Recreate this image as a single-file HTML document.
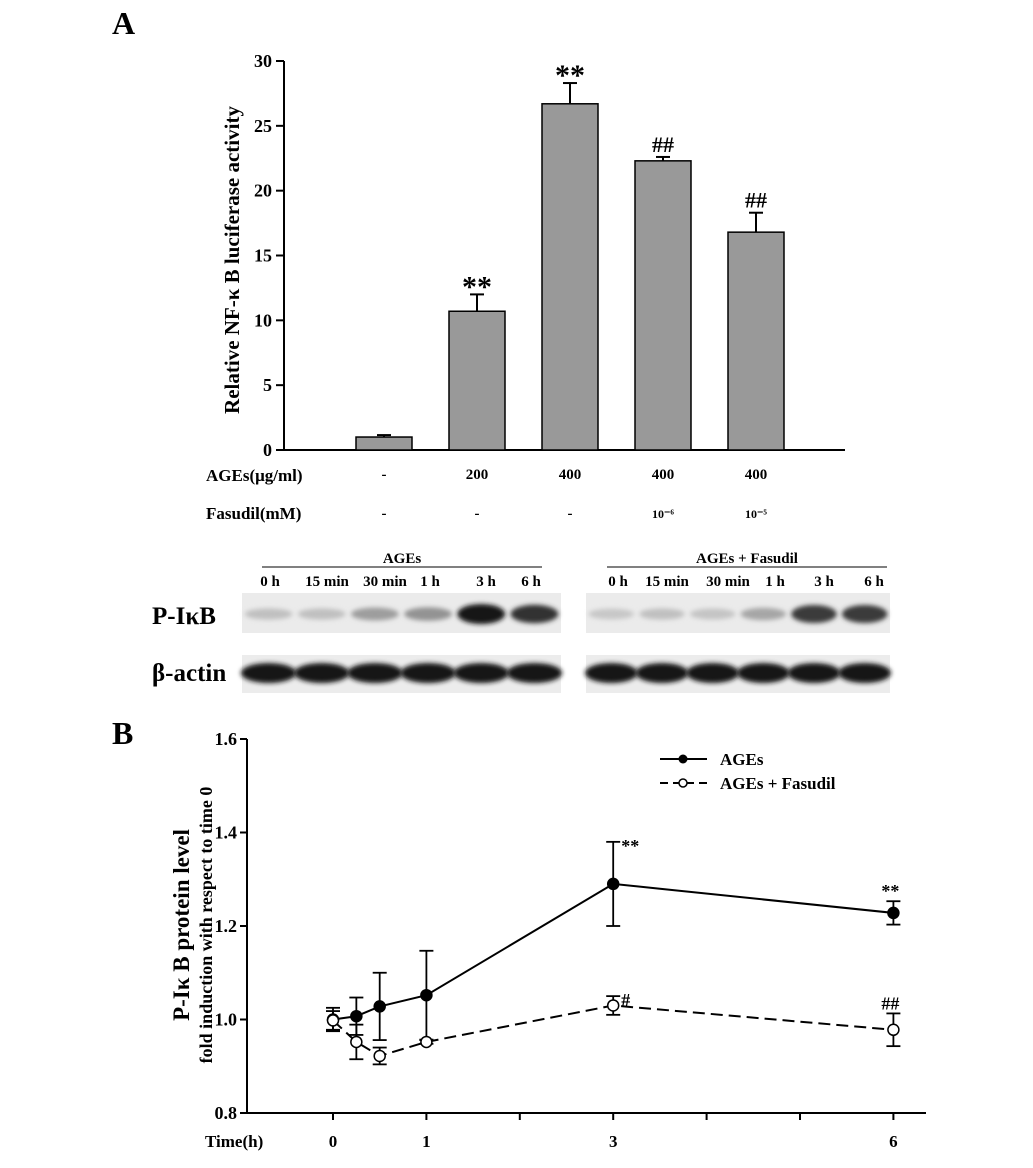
<!DOCTYPE html>
<html><head><meta charset="utf-8"><style>
body{margin:0;background:#fff;}
svg{display:block;font-family:"Liberation Serif",serif;font-weight:bold;}
</style></head><body>
<svg width="1033" height="1168" viewBox="0 0 1033 1168">
<defs>
<filter id="blur" x="-20%" y="-50%" width="140%" height="200%"><feGaussianBlur stdDeviation="2.5"/></filter>
</defs>
<text x="112" y="34" font-size="32">A</text>
<text x="112" y="744" font-size="32">B</text>
<g id="barChart"></g>
<g id="blots"></g>
<g id="lineChart"></g>
</svg>
<script>
const NS="http://www.w3.org/2000/svg";
function mk(parent,tag,attrs,text){const e=document.createElementNS(NS,tag);for(const k in attrs)e.setAttribute(k,attrs[k]);if(text!==undefined)e.textContent=text;parent.appendChild(e);return e;}

// ---- Bar chart data ----
const barCategories=["ctrl","AGEs200","AGEs400","AGEs400+F6","AGEs400+F5"];
const barValues=[1.0,10.7,26.7,22.3,16.8];
const barErrors=[0.15,1.3,1.6,0.3,1.5];
const barMarks=["","**","**","##","##"];
const agesLabels=["-","200","400","400","400"];
const fasudilLabels=["-","-","-","10⁻⁶","10⁻⁵"];
const barTicks=[0,5,10,15,20,25,30];

const bc=document.getElementById('barChart');
const bx0=284,by0=450,byTop=61,bMax=30;
const by=v=>by0-(v/bMax)*(by0-byTop);
const bcx=i=>384+i*93;
const bw=56;
let e;
e=mk(bc,'line',{x1:bx0,y1:byTop,x2:bx0,y2:by0,stroke:'#000','stroke-width':2});

e=mk(bc,'line',{x1:bx0,y1:by0,x2:845,y2:by0,stroke:'#000','stroke-width':2});

barTicks.forEach(t=>{
  e=mk(bc,'line',{x1:bx0-8,y1:by(t),x2:bx0,y2:by(t),stroke:'#000','stroke-width':2});
  
  e=mk(bc,'text',{x:bx0-12,y:by(t)+6,'font-size':18,'text-anchor':'end'},String(t));
  
});
e=mk(bc,'text',{transform:'translate(239,260) rotate(-90)','font-size':21,'text-anchor':'middle'},'Relative NF-κ B luciferase activity');

barValues.forEach((v,i)=>{
  const cx=bcx(i);
  e=mk(bc,'line',{x1:cx,y1:by(v),x2:cx,y2:by(v+barErrors[i]),stroke:'#000','stroke-width':2});
  
  e=mk(bc,'line',{x1:cx-7,y1:by(v+barErrors[i]),x2:cx+7,y2:by(v+barErrors[i]),stroke:'#000','stroke-width':2});
  
  e=mk(bc,'rect',{x:cx-bw/2,y:by(v),width:bw,height:by0-by(v),fill:'#999','stroke':'#000','stroke-width':1.5});
  
  if(barMarks[i]){
    const isStar=barMarks[i]==='**';
    e=mk(bc,'text',{x:cx,y:by(v+barErrors[i])-(isStar?-2:5),'font-size':isStar?30:22,'text-anchor':'middle'},barMarks[i]);
    
  }
  e=mk(bc,'text',{x:cx,y:479,'font-size':15,'text-anchor':'middle'},agesLabels[i]);
  
  e=mk(bc,'text',{x:cx,y:518,'font-size':i>2?12:15,'text-anchor':'middle'},fasudilLabels[i]);
  
});
e=mk(bc,'text',{x:206,y:481,'font-size':17},'AGEs(μg/ml)');

e=mk(bc,'text',{x:206,y:519,'font-size':17},'Fasudil(mM)');


// ---- Blots ----
const laneLabels=["0 h","15 min","30 min","1 h","3 h","6 h"];
const leftLaneX=[270,327,385,430,486,531];
const rightLaneX=[618,667,728,775,824,874];
const leftPI=[0.12,0.12,0.3,0.35,1.0,0.85];
const rightPI=[0.08,0.12,0.1,0.25,0.8,0.8];
const bl=document.getElementById('blots');
function blotGroup(x0,x1,lineX0,lineX1,title,laneX,pi,name){
  e=mk(bl,'text',{x:(lineX0+lineX1)/2,y:563,'font-size':15,'text-anchor':'middle'},title);
  
  e=mk(bl,'line',{x1:lineX0,y1:567,x2:lineX1,y2:567,stroke:'#000','stroke-width':1});
  
  laneX.forEach((lx,i)=>{
    e=mk(bl,'text',{x:lx,y:586,'font-size':15,'text-anchor':'middle'},laneLabels[i]);
    
  });
  e=mk(bl,'rect',{x:x0,y:593,width:x1-x0,height:40,fill:'#ebebeb'});
  
  e=mk(bl,'rect',{x:x0,y:655,width:x1-x0,height:38,fill:'#ececec'});
  
  const w=(x1-x0)/6;
  pi.forEach((d,i)=>{
    const cx=x0+w*(i+0.5);
    const g=Math.round(215-195*d);
    e=mk(bl,'ellipse',{cx:cx,cy:614,rx:w*0.45,ry:5+5*d,fill:`rgb(${g},${g},${g})`,filter:'url(#blur)'});
    
    e=mk(bl,'ellipse',{cx:cx,cy:673,rx:w*0.52,ry:10,fill:'#151515',filter:'url(#blur)'});
    
  });
}
blotGroup(242,561,262,542,'AGEs',leftLaneX,leftPI,'ages');
blotGroup(586,890,607,887,'AGEs + Fasudil',rightLaneX,rightPI,'fasudil');
e=mk(bl,'text',{x:152,y:624,'font-size':25},'P-IκB');

e=mk(bl,'text',{x:152,y:681,'font-size':25},'β-actin');


// ---- Line chart data ----
const timePoints=[0,0.25,0.5,1,3,6];
const agesValues=[1.0,1.007,1.028,1.052,1.29,1.228];
const agesErr=[0.025,0.04,0.072,0.095,0.09,0.025];
const fasValues=[0.998,0.952,0.922,0.952,1.03,0.978];
const fasErr=[0.02,0.037,0.018,0.004,0.02,0.035];
const xTickVals=[0,1,2,3,4,5,6];
const xTickLabels=["0","1","","3","","","6"];
const yTickVals=[0.8,1.0,1.2,1.4,1.6];
const agesMarks={4:"**",5:"**"};
const fasMarks={4:"#",5:"##"};

const lc=document.getElementById('lineChart');
const lx0=247,ly0=1113,lyTop=739;
const lx=t=>333+t*93.4;
const ly=v=>ly0-(v-0.8)/0.8*(ly0-lyTop);
e=mk(lc,'line',{x1:lx0,y1:lyTop,x2:lx0,y2:ly0,stroke:'#000','stroke-width':2});

e=mk(lc,'line',{x1:lx0,y1:ly0,x2:926,y2:ly0,stroke:'#000','stroke-width':2});

yTickVals.forEach(t=>{
  e=mk(lc,'line',{x1:lx0-7,y1:ly(t),x2:lx0,y2:ly(t),stroke:'#000','stroke-width':2});
  
  e=mk(lc,'text',{x:lx0-10,y:ly(t)+6,'font-size':18,'text-anchor':'end'},t.toFixed(1));
  
});
xTickVals.forEach((t,i)=>{
  e=mk(lc,'line',{x1:lx(t),y1:ly0,x2:lx(t),y2:ly0+7,stroke:'#000','stroke-width':2});
  
  if(xTickLabels[i]){
    e=mk(lc,'text',{x:lx(t),y:1147,'font-size':17,'text-anchor':'middle'},xTickLabels[i]);
    
  }
});
e=mk(lc,'text',{x:205,y:1147,'font-size':17},'Time(h)');

e=mk(lc,'text',{transform:'translate(189,925) rotate(-90)','font-size':23,'text-anchor':'middle'},'P-Iκ B protein level');

e=mk(lc,'text',{transform:'translate(212,925) rotate(-90)','font-size':18,'text-anchor':'middle'},'fold induction with respect to time 0');


function series(vals,errs,dash,fill,name,marks){
  const pts=timePoints.map((t,i)=>lx(t)+','+ly(vals[i])).join(' ');
  e=mk(lc,'polyline',{points:pts,fill:'none',stroke:'#000','stroke-width':2,'stroke-dasharray':dash});
  
  timePoints.forEach((t,i)=>{
    const x=lx(t),hi=ly(vals[i]+errs[i]),lo=ly(vals[i]-errs[i]);
    e=mk(lc,'line',{x1:x,y1:hi,x2:x,y2:lo,stroke:'#000','stroke-width':1.8});
    
    e=mk(lc,'line',{x1:x-7,y1:hi,x2:x+7,y2:hi,stroke:'#000','stroke-width':1.8});
    
    e=mk(lc,'line',{x1:x-7,y1:lo,x2:x+7,y2:lo,stroke:'#000','stroke-width':1.8});
    
    e=mk(lc,'circle',{cx:x,cy:ly(vals[i]),r:5.5,fill:fill,stroke:'#000','stroke-width':1.5});
    
    if(marks[i]){
      e=mk(lc,'text',{x:x+(i===4?8:-12),y:hi-(i===4?-10:4),'font-size':18},marks[i]);
      
    }
  });
}
series(agesValues,agesErr,'none','#000','ages',agesMarks);
series(fasValues,fasErr,'12,6','#fff','fasudil',fasMarks);

// legend
e=mk(lc,'line',{x1:660,y1:759,x2:707,y2:759,stroke:'#000','stroke-width':2});

e=mk(lc,'circle',{cx:683,cy:759,r:4.5,fill:'#000'});

e=mk(lc,'text',{x:720,y:765,'font-size':17},'AGEs');

e=mk(lc,'line',{x1:660,y1:783,x2:707,y2:783,stroke:'#000','stroke-width':2,'stroke-dasharray':'8,5'});

e=mk(lc,'circle',{cx:683,cy:783,r:4,fill:'#fff',stroke:'#000','stroke-width':1.5});

e=mk(lc,'text',{x:720,y:789,'font-size':17},'AGEs + Fasudil');

</script>
</body></html>
